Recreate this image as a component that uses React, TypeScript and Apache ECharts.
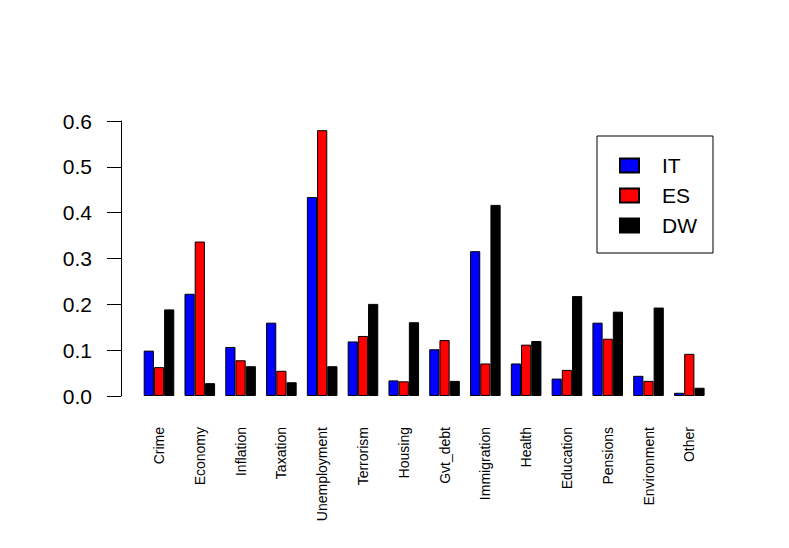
import React, { useEffect, useRef } from "react";
import * as echarts from "echarts";

const categories = [
  "Crime", "Economy", "Inflation", "Taxation", "Unemployment", "Terrorism", "Housing",
  "Gvt_debt", "Immigration", "Health", "Education", "Pensions", "Environment", "Other",
];
const seriesNames = ["IT", "ES", "DW"];
const seriesColors = ["#0000FF", "#FF0000", "#000000"];
const itValues = [0.099, 0.223, 0.107, 0.160, 0.434, 0.119, 0.034, 0.102, 0.316, 0.071, 0.038, 0.160, 0.044, 0.007];
const esValues = [0.063, 0.337, 0.078, 0.055, 0.580, 0.131, 0.032, 0.122, 0.071, 0.112, 0.057, 0.125, 0.033, 0.092];
const dwValues = [0.189, 0.028, 0.065, 0.030, 0.065, 0.201, 0.161, 0.033, 0.417, 0.120, 0.218, 0.184, 0.193, 0.018];
const yTicks = [0, 0.1, 0.2, 0.3, 0.4, 0.5, 0.6];

const FONT = "'Liberation Sans', Arial, Helvetica, sans-serif";

export default function App() {
  const ref = useRef<HTMLDivElement>(null);
  useEffect(() => {
    document.body.style.margin = "0";
    if (!ref.current) return;
    const chart = echarts.init(ref.current, undefined, { renderer: "svg" });
    const allValues = [itValues, esValues, dwValues];
    chart.setOption({
      animation: false,
      backgroundColor: "#ffffff",
      textStyle: { fontFamily: FONT },
      grid: { left: 138.6, right: 79.3, top: 121, bottom: 152, containLabel: false },
      legend: {
        orient: "vertical",
        left: 597,
        top: 136,
        data: seriesNames,
        icon: "rect",
        itemWidth: 19,
        itemHeight: 14,
        itemGap: 9,
        padding: [19, 16, 17, 22],
        borderColor: "#000",
        borderWidth: 1,
        borderRadius: 0,
        textStyle: { fontSize: 21, color: "#000", fontFamily: FONT, padding: [0, 0, 0, 18] },
      },
      xAxis: {
        type: "category",
        data: categories,
        axisLine: { show: false },
        axisTick: { show: false },
        axisLabel: {
          rotate: 90,
          margin: 31,
          fontSize: 14,
          color: "#000",
          fontFamily: FONT,
          interval: 0,
        },
      },
      yAxis: {
        type: "value",
        min: yTicks[0],
        max: yTicks[yTicks.length - 1],
        interval: 0.1,
        offset: 17.6,
        splitLine: { show: false },
        axisLine: { show: true, lineStyle: { color: "#000", width: 1 } },
        axisTick: { show: true, length: 14, lineStyle: { color: "#000", width: 1 } },
        axisLabel: {
          fontSize: 21,
          color: "#000",
          margin: 29,
          fontFamily: FONT,
          formatter: (v: number) => v.toFixed(1),
        },
      },
      series: seriesNames.map((name, i) => ({
        name,
        type: "bar",
        data: allValues[i],
        barGap: "0%",
        barCategoryGap: "25%",
        itemStyle: { color: seriesColors[i], borderColor: "#000", borderWidth: 1 },
      })),
    });
    return () => chart.dispose();
  }, []);
  return <div ref={ref} style={{ width: 789, height: 548 }} />;
}
